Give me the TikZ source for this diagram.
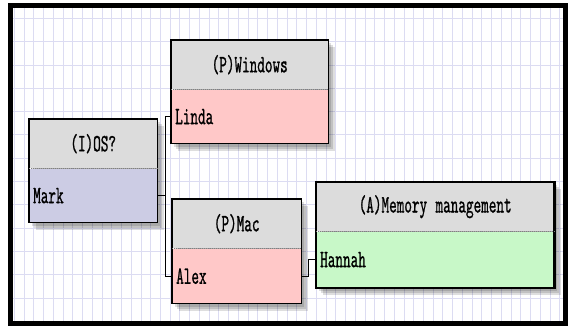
\documentclass[tikz,border=0pt]{standalone}
\usepackage{fontspec}
\usetikzlibrary{backgrounds,positioning}
\newfontfamily\boxfont{lmmono10-regular.otf}[FakeStretch=0.58,FakeBold=0.8]
\newcommand{\boxtext}{\boxfont\fontsize{25}{25}\selectfont}
\definecolor{headgray}{HTML}{DCDCDC}
\definecolor{osblue}{HTML}{CCCCE4}
\definecolor{pinkbody}{HTML}{FFC8C8}
\definecolor{greenbody}{HTML}{C8F8C8}
\definecolor{gridblue}{HTML}{DCDCF2}
\tikzset{
    head/.style={font=\boxtext,fill=headgray,text width=#1,align=center,
        inner xsep=4pt,inner ysep=0pt,minimum height=49pt,anchor=north west},
    body/.style={font=\boxtext,text width=#1,align=left,
        inner xsep=4pt,inner ysep=0pt,minimum height=54pt},
    frame/.style={draw=black,line width=1.3pt},
    sep/.style={draw=gray,densely dotted,line width=1pt},
    link/.style={draw=black,line width=1pt},
    gridline/.style={draw=gridblue,line width=0.8pt}
}

\begin{document}
\begin{tikzpicture}[x=1pt,y=-1pt]
    \useasboundingbox (0,0) rectangle (568,327);
    % boxes
    \node[head=120pt] (os-h) at (29,119) {(I)OS?};
    \node[body=120pt,fill=osblue,below=0pt of os-h] (os) {Mark};
    \node[head=149pt] (win-h) at (171,40) {(P)Windows};
    \node[body=149pt,fill=pinkbody,below=0pt of win-h] (win) {Linda};
    \node[head=121pt] (mac-h) at (172,199) {(P)Mac};
    \node[body=121pt,fill=pinkbody,below=0pt of mac-h,minimum height=55pt] (mac) {Alex};
    \node[head=230pt] (mem-h) at (316,182) {(A)Memory management};
    \node[body=230pt,fill=greenbody,below=0pt of mem-h,minimum height=56pt] (mem) {Hannah};

    \begin{scope}[on background layer]
        \fill[white] (13,8) rectangle (563,321);
        \foreach \i in {0,...,56}
            \draw[gridline] ({14.3+9.74*\i},8) -- ({14.3+9.74*\i},321);
        \foreach \j in {0,...,12}
            \draw[gridline] (13,{18.3+23.3*\j}) -- (563,{18.3+23.3*\j});
        % shadows
        \foreach \n in {os,win,mac,mem}
            \foreach \d in {3,5,7}
                \fill[black,opacity=0.13] ([shift={(\d,\d)}]\n-h.north west)
                    rectangle ([shift={(\d,\d)}]\n.south east);
    \end{scope}

    \foreach \n in {os,win,mac}
        \draw[frame] (\n-h.north west) rectangle (\n.south east);
    \draw[frame,line width=2.6pt] (mem-h.north west) rectangle (mem.south east);
    \foreach \n in {os,win,mac,mem}
        \draw[sep] (\n-h.south west) -- (\n-h.south east);

    % links
    \draw[link] (os.east) -- ++(8,0) |- (win.west);
    \draw[link] (os.east) -- ++(8,0) |- (mac.west);
    \draw[link] (mac.east) -- ++(7,0) |- (mem.west);

    \draw[line width=5pt] (10.5,5.5) rectangle (565.5,323.5);
\end{tikzpicture}
\end{document}
